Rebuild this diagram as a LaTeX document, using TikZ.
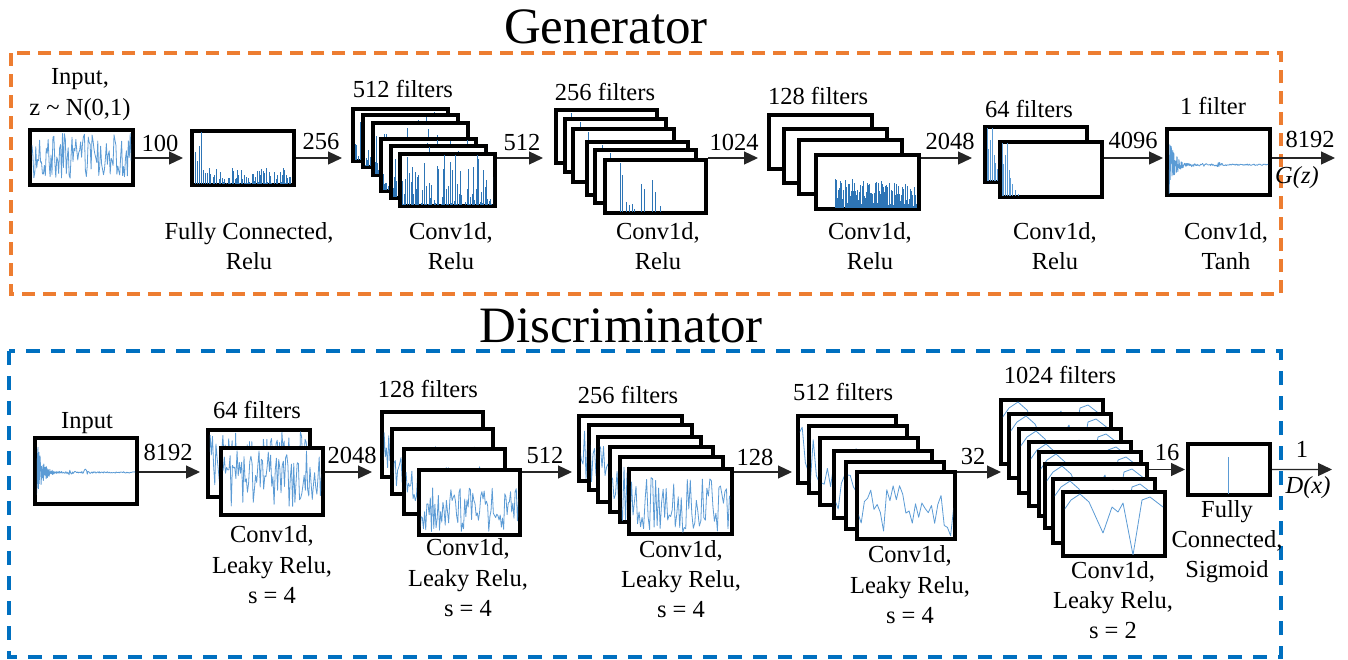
\documentclass[tikz,border=0pt]{standalone}
\usepackage{fontspec}
\setmainfont{Liberation Serif}
\usetikzlibrary{arrows.meta}
\definecolor{gorange}{HTML}{ED7D31}
\definecolor{dblue}{HTML}{0070C0}
\definecolor{wlight}{HTML}{5B9BD5}
\definecolor{wdark}{HTML}{2E75B6}
\tikzset{
 frm/.style={draw=black, line width=3.8pt, fill=white, inner sep=0pt, anchor=north west},
 lbl/.style={font=\fontsize{24.5}{29}\selectfont, anchor=base, inner sep=0pt},
 ttl/.style={font=\fontsize{51}{60}\selectfont, anchor=base, inner sep=0pt},
 arr/.style={line width=1.2pt, draw=black!85, -{Triangle[length=14pt,width=13pt]}},
 wv/.style={draw=wlight, line width=0.8pt, line join=round},
 bar/.style={draw=wdark, line width=0.9pt},
 gbox/.style={draw=gorange, line width=4pt, dash pattern=on 13pt off 8pt},
 dbox/.style={draw=dblue, line width=4pt, dash pattern=on 14pt off 11pt},
}
\newcommand\mkframe[5]{%
 \pgfmathsetmacro\fw{#4-3.8}\pgfmathsetmacro\fh{#5-3.8}%
 \node[frm, minimum width=\fw pt, minimum height=\fh pt] (#1) at (#2,#3) {};}
\newcommand\noisew[7][]{%
 \begin{scope}[shift={(#2.north west)}]
 \clip (3.8,3.8) rectangle ({#3-3.8},{#4-3.8});
 \draw[wv] plot[#1, domain=3:#3, samples=#7] (\x,{#4*#5+#4*#6*rand});
 \end{scope}}
\newcommand\spikesw[5][wdark]{%
 \begin{scope}[shift={(#2.north west)}]
 \clip (3.8,3.8) rectangle ({#3-3.8},{#4-3.8});
 \foreach \a/\b in {#5} \draw[bar, draw=#1] ({#3*\a},#4) -- ({#3*\a},{#4*(1-\b)});
 \end{scope}}
\newcommand\barsw[8]{%
 \begin{scope}[shift={(#1.north west)}]
 \clip (3.8,3.8) rectangle ({#2-3.8},{#3-3.8});
 \foreach \i in {0,...,#6}{
  \pgfmathsetmacro\rr{rnd}
  \pgfmathsetmacro\xx{#2*(#4+(#5-#4)*\i/#6)}
  \pgfmathsetmacro\hh{#3*#7*(\rr^#8)+3}
  \draw[bar] (\xx,#3) -- (\xx,{#3-\hh});}
 \end{scope}}
\newcommand\decayw[4]{%
 \begin{scope}[shift={(#1.north west)}]
 \clip (3.8,3.8) rectangle ({#2-3.8},{#3-3.8});
 \draw[wv] plot[domain=3.5:26, samples=90] (\x,{#3*#4+#3*0.47*exp(-(\x-3.5)/6)*rand});
 \draw[wv] plot[domain=26:#2, samples=120] (\x,{#3*#4+#3*(0.01+0.045/(1+((\x-0.5*#2)/1.8)^2)+0.03/(1+((\x-0.35*#2)/1.8)^2)+0.03/(1+((\x-0.25*#2)/1.8)^2))*rand});
 \end{scope}}
\newcommand\tenw[1]{%
 \begin{scope}[shift={(#1.north west)}]
 \clip (3.8,3.8) rectangle (102.2,64.2);
 \draw[wv] (3,20) -- (10,10) -- (19,4) -- (28,12) -- (42,43) -- (51,17) -- (57,22) -- (62,13) -- (72,65) -- (81,10) -- (89,7) -- (102,17);
 \end{scope}}
\newcommand\lb[4]{\node[lbl] (#1) at (#2,#3) {#4};}
\begin{document}
\begin{tikzpicture}[x=1pt,y=-1pt]
\pgfmathsetseed{7}
\useasboundingbox (0,0) rectangle (1348,659);
\fill[white] (0,0) rectangle (1348,659);
% group frames
\draw[gbox] (11,53) rectangle (1281,294);
\draw[dbox] (9,351) rectangle (1281,657);
\node[ttl] (gtitle) at (606,43) {Generator};
\node[ttl] (dtitle) at (621,342) {Discriminator};
\coordinate (yG) at (0,158);
\coordinate (yD) at (0,472);
% ---------------- Generator ----------------
\mkframe{gin}{28}{128}{107}{59}
\noisew{gin}{107}{59}{0.47}{0.38}{110}
\mkframe{gfc}{190}{129}{106}{58}
\spikesw{gfc}{106}{58}{0.05/0.6,0.07/0.45,0.09/0.7,0.11/0.96,0.13/0.3,0.15/0.25}
\barsw{gfc}{106}{58}{0.16}{0.95}{110}{0.3}{3}
\foreach \n/\px/\py in {g5a/351/107,g5b/361/113,g5c/371/121,g5d/379/137,g5e/389/144,g5f/398/152}{
 \mkframe{\n}{\px}{\py}{99}{56}
 \barsw{\n}{99}{56}{0.04}{0.96}{70}{0.9}{2}}
\foreach \n/\px/\py in {g2a/554/108,g2b/563/117,g2c/571/127,g2d/585/140,g2e/593/148,g2f/603/158}{
 \mkframe{\n}{\px}{\py}{105}{57}
 \spikesw{\n}{105}{57}{0.17/0.92,0.185/0.7,0.22/0.22,0.25/0.18,0.28/0.2,0.30/0.1,0.37/0.55,0.39/0.45,0.47/0.62,0.50/0.4,0.55/0.15}}
\foreach \n/\px/\py in {g1a/767/113,g1b/782/127,g1c/797/138,g1d/814/153}{
 \mkframe{\n}{\px}{\py}{107}{58}
 \barsw{\n}{107}{58}{0.2}{0.96}{100}{0.5}{1}}
\foreach \n/\px/\py in {g6a/983/125,g6b/998/140}{
 \mkframe{\n}{\px}{\py}{106}{59}
 \spikesw[wlight]{\n}{106}{59}{0.04/0.96,0.055/0.6,0.07/0.75,0.09/0.96,0.105/0.5,0.12/0.35,0.14/0.25,0.16/0.15,0.19/0.08,0.23/0.05,0.3/0.03,0.45/0.04}}
\mkframe{gt}{1165}{127}{107}{70}
\decayw{gt}{107}{70}{0.54}
\coordinate (gout) at (1335,158);
\draw[arr, shorten >=7pt] (gin.east |- yG) -- (gfc.west |- yG);
\draw[arr, shorten >=9pt] (gfc.east |- yG) -- (g5a.west |- yG);
\draw[arr, shorten >=11pt] (g5f.east |- yG) -- (g2a.west |- yG);
\draw[arr, shorten >=9pt] (g2f.east |- yG) -- (g1a.west |- yG);
\draw[arr, shorten >=11pt] (g1d.east |- yG) -- (g6a.west |- yG);
\draw[arr, shorten >=2pt] (g6b.east |- yG) -- (gt.west |- yG);
\draw[arr] (gt.east |- yG) -- (gout);
\lb{gl1}{80}{84}{Input,}
\lb{gl2}{80}{115}{z \textasciitilde{} N(0,1)}
\lb{gn1}{160}{151}{100}
\lb{gn2}{321}{149}{256}
\lb{gl3}{249}{239}{Fully Connected,}
\lb{gl4}{249}{269}{Relu}
\lb{gl5}{403}{97}{512 filters}
\lb{gl6}{451}{239}{Conv1d,}
\lb{gl7}{451}{269}{Relu}
\lb{gn3}{522}{150}{512}
\lb{gl8}{605}{100}{256 filters}
\lb{gl9}{658}{239}{Conv1d,}
\lb{gl10}{658}{269}{Relu}
\lb{gn4}{734}{150}{1024}
\lb{gl11}{818}{104}{128 filters}
\lb{gl12}{870}{239}{Conv1d,}
\lb{gl13}{870}{269}{Relu}
\lb{gn5}{950}{149}{2048}
\lb{gl14}{1029}{117}{64 filters}
\lb{gl15}{1055}{239}{Conv1d,}
\lb{gl16}{1055}{269}{Relu}
\lb{gn6}{1133}{148}{4096}
\lb{gl17}{1213}{114}{1 filter}
\lb{gl18}{1226}{239}{Conv1d,}
\lb{gl19}{1226}{269}{Tanh}
\lb{gn7}{1310}{147}{8192}
\lb{gn8}{1297}{183}{\textit{G(z)}}
% ---------------- Discriminator ----------------
\mkframe{din}{33}{436}{106}{70}
\decayw{din}{106}{70}{0.52}
\foreach \n/\px/\py in {d6a/206/428,d6b/219/446}{
 \mkframe{\n}{\px}{\py}{106}{71}
 \noisew{\n}{106}{71}{0.45}{0.4}{90}}
\foreach \n/\px/\py in {d1a/380/410,d1b/390/427,d1c/402/447,d1d/417/468}{
 \mkframe{\n}{\px}{\py}{105}{69}
 \noisew{\n}{105}{69}{0.6}{0.32}{90}}
\foreach \n/\px/\py in {d2a/577/414,d2b/587/423,d2c/596/435,d2d/608/445,d2e/618/455,d2f/627/467}{
 \mkframe{\n}{\px}{\py}{107}{69}
 \noisew{\n}{107}{69}{0.55}{0.4}{70}}
\foreach \n/\px/\py in {d5a/796/414,d5b/807/424,d5c/818/436,d5d/832/449,d5e/844/460,d5f/855/470}{
 \mkframe{\n}{\px}{\py}{102}{71}
 \noisew{\n}{102}{71}{0.55}{0.38}{32}}
\foreach \n/\px/\py in {d0a/999/398,d0b/1007/412,d0c/1017/427,d0d/1027/440,d0e/1037/450,d0f/1043/462,d0g/1051/477,d0h/1061/490}{
 \mkframe{\n}{\px}{\py}{106}{68}
 \tenw{\n}}
\mkframe{dfc}{1186}{442}{86}{55}
\spikesw[wlight]{dfc}{86}{55}{0.49/0.73}
\coordinate (dout) at (1332,469.5);
\draw[arr, shorten >=6pt] (din.east |- yD) -- (d6a.west |- yD);
\draw[arr, shorten >=8pt] (d6b.east |- yD) -- (d1a.west |- yD);
\draw[arr, shorten >=5pt] (d1d.east |- yD) -- (d2a.west |- yD);
\draw[arr, shorten >=4pt] (d2f.east |- yD) -- (d5a.west |- yD);
\draw[arr, shorten >=-2pt] (d5f.east |- yD) -- (d0a.west |- yD);
\draw[arr, shorten >=1pt] (d0f.east |- dfc.west) -- (dfc.west);
\draw[arr] (dfc.east) -- (dout);
\lb{dl1}{87}{428}{Input}
\lb{dn1}{168}{460}{8192}
\lb{dl2}{257}{418}{64 filters}
\lb{dl3}{272}{542}{Conv1d,}
\lb{dl4}{272}{573}{Leaky Relu,}
\lb{dl5}{272}{603}{s = 4}
\lb{dn2}{352}{463}{2048}
\lb{dl6}{428}{397}{128 filters}
\lb{dl7}{468}{555}{Conv1d,}
\lb{dl8}{468}{586}{Leaky Relu,}
\lb{dl9}{468}{616}{s = 4}
\lb{dn3}{545}{463}{512}
\lb{dl10}{628}{403}{256 filters}
\lb{dl11}{681}{557}{Conv1d,}
\lb{dl12}{681}{587}{Leaky Relu,}
\lb{dl13}{681}{617}{s = 4}
\lb{dn4}{755}{465}{128}
\lb{dl14}{843}{400}{512 filters}
\lb{dl15}{910}{562}{Conv1d,}
\lb{dl16}{910}{593}{Leaky Relu,}
\lb{dl17}{910}{623}{s = 4}
\lb{dn5}{973}{464}{32}
\lb{dl18}{1060}{383}{1024 filters}
\lb{dl19}{1113}{578}{Conv1d,}
\lb{dl20}{1113}{608}{Leaky Relu,}
\lb{dl21}{1113}{638}{s = 2}
\lb{dn6}{1167}{460}{16}
\lb{dl22}{1227}{517}{Fully}
\lb{dl23}{1227}{547}{Connected,}
\lb{dl24}{1227}{577}{Sigmoid}
\lb{dn7}{1302}{457}{1}
\lb{dn8}{1308}{493}{\textit{D(x)}}
\end{tikzpicture}
\end{document}
